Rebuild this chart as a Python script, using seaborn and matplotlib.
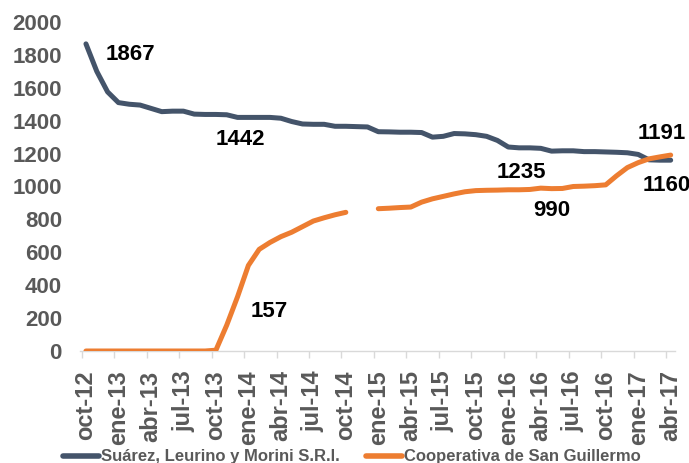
import matplotlib
matplotlib.use("Agg")
import matplotlib.pyplot as plt
import numpy as np
import pandas as pd
import seaborn as sns

# Serie mensual oct-12 .. abr-17
MESES_ES = ["ene", "feb", "mar", "abr", "may", "jun", "jul", "ago", "sep", "oct", "nov", "dic"]
meses = [f"{MESES_ES[(9 + i) % 12]}-{12 + (9 + i) // 12}" for i in range(55)]

suarez = [
    1867, 1700, 1575, 1510, 1500, 1495, 1475, 1455, 1458, 1458,
    1440, 1438, 1438, 1436, 1420, 1420, 1420, 1420, 1415, 1395,
    1380, 1378, 1378, 1366, 1366, 1364, 1362, 1333, 1332, 1330,
    1330, 1328, 1300, 1305, 1322, 1320, 1315, 1305, 1280, 1240,
    1235, 1235, 1232, 1215, 1217, 1217, 1212, 1212, 1210, 1208,
    1205, 1195, 1162, 1160, 1160,
]
cooperativa = [
    0, 0, 0, 0, 0, 0, 0, 0, 0, 0,
    0, 0, 5, 157, 330, 520, 618, 660, 695, 722,
    756, 790, 810, 828, 843, np.nan, np.nan, 865, 868, 872,
    875, 905, 925, 940, 955, 968, 975, 977, 978, 980,
    980, 982, 990, 987, 988, 1000, 1002, 1005, 1010, 1065,
    1115, 1145, 1168, 1180, 1191,
]
series = ["Suárez, Leurino y Morini S.R.l.", "Cooperativa de San Guillermo"]
colores = ["#44546A", "#ED7D31"]

# etiquetas de datos: (texto, mes, valor donde se ubica el texto)
etiquetas = [
    ("1867", 4.1, 1800),
    ("1442", 14.3, 1283),
    ("157", 16.9, 243),
    ("1235", 40.2, 1088),
    ("990", 43.0, 857),
    ("1191", 53.2, 1325),
    ("1160", 53.6, 1009),
]

GRIS = "#595959"


def _armar_tabla() -> pd.DataFrame:
    idx = np.arange(len(meses))
    a = pd.DataFrame({"mes": idx, "valor": suarez, "empresa": series[0], "tramo": 0})
    coop = np.array(cooperativa, dtype=float)
    # tramos separados donde falta el dato
    tramo = np.cumsum(np.isnan(coop)) + 1
    b = pd.DataFrame({"mes": idx, "valor": coop, "empresa": series[1], "tramo": tramo})
    df = pd.concat([a, b], ignore_index=True)
    return df.dropna(subset=["valor"])


def main() -> None:
    sns.set_theme(style="white")
    plt.rcParams["font.family"] = ["Liberation Sans", "DejaVu Sans"]
    plt.rcParams["font.weight"] = "bold"

    df = _armar_tabla()
    fig = plt.figure(figsize=(6.89, 4.63), dpi=100)
    ax = fig.add_axes([0.1161, 0.2419, 0.8636, 0.7106])

    sns.lineplot(
        data=df, x="mes", y="valor", hue="empresa", units="tramo", estimator=None,
        hue_order=series, palette=colores, linewidth=3.6, ax=ax, legend=True,
    )

    ax.set_xlim(-0.55, 54.4)
    ax.set_ylim(0, 2000)
    ax.set_yticks(np.arange(0, 2001, 200))
    ax.tick_params(axis="y", labelsize=16, labelcolor=GRIS, length=0, pad=13)

    pos = np.arange(0, len(meses), 3)
    ax.set_xticks(pos)
    ax.set_xticklabels([meses[i] for i in pos], rotation=90, fontsize=17, color=GRIS, fontweight="bold")
    ax.set_xticks(pos - 0.4, minor=True)
    ax.tick_params(axis="x", which="major", length=0, pad=14)
    ax.tick_params(axis="x", which="minor", length=5, color="#D9D9D9", width=1, bottom=True)
    for lbl in ax.get_yticklabels():
        lbl.set_fontweight("bold")

    for lado in ["left", "right", "top"]:
        ax.spines[lado].set_visible(False)
    ax.spines["bottom"].set_color("#D9D9D9")
    ax.spines["bottom"].set_linewidth(1)
    ax.spines["bottom"].set_zorder(0)
    ax.set_xlabel("")
    ax.set_ylabel("")
    ax.grid(False)

    for texto, x, y in etiquetas:
        ax.text(x, y, texto, ha="center", va="center", fontsize=16, fontweight="bold", color="black")

    handles, labels = ax.get_legend_handles_labels()
    for h in handles:
        h.set_linewidth(4)
    ax.legend(
        handles, labels, loc="center", bbox_to_anchor=(0.511, 0.013), bbox_transform=fig.transFigure,
        ncol=2, frameon=False, handlelength=2.15, handletextpad=0.1,
        columnspacing=1.6, labelcolor=GRIS, prop={"weight": "bold", "size": 12},
    )

    fig.savefig("out.png", dpi=100)
    plt.close(fig)


if __name__ == "__main__":
    main()
